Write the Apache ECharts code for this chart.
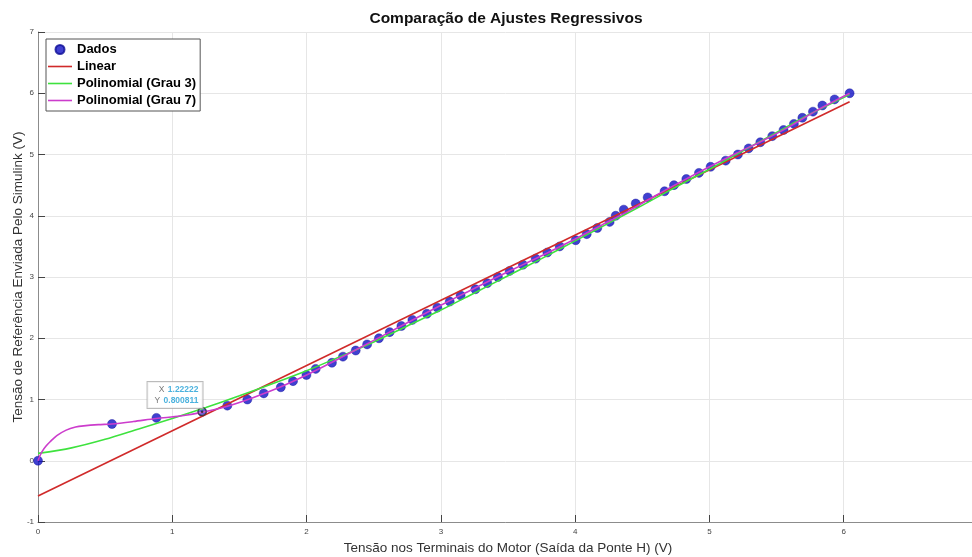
<!DOCTYPE html>
<html>
<head>
<meta charset="utf-8">
<script src="https://cdn.jsdelivr.net/npm/echarts@6/dist/echarts.min.js"></script>
<style>
html,body{margin:0;padding:0;background:#fff;}
#c{width:972px;height:557px;}
</style>
</head>
<body>
<div id="c"></div>
<script>
// ---- data ----
const dadosX = [0, 0.551, 0.882, 1.22222,
  1.410, 1.559, 1.681, 1.808, 1.899, 1.999, 2.068, 2.189, 2.271, 2.366,
  2.451, 2.539, 2.619, 2.706, 2.788, 2.896, 2.974, 3.066, 3.147, 3.257,
  3.346, 3.425, 3.512, 3.611, 3.706, 3.793, 3.885, 4.004, 4.086, 4.165,
  4.257, 4.302, 4.362, 4.451, 4.540, 4.666, 4.736, 4.828, 4.922, 5.009,
  5.121, 5.212, 5.292, 5.379, 5.468, 5.552, 5.629, 5.692, 5.771, 5.841,
  5.932, 6.044];
const dadosY = [0, 0.6, 0.7, 0.800811,
  0.9, 1.0, 1.1, 1.2, 1.3, 1.4, 1.5, 1.6, 1.7, 1.8,
  1.9, 2.0, 2.1, 2.2, 2.3, 2.4, 2.5, 2.6, 2.7, 2.8,
  2.9, 3.0, 3.1, 3.2, 3.3, 3.4, 3.5, 3.6, 3.7, 3.8,
  3.9, 4.0, 4.1, 4.2, 4.3, 4.4, 4.5, 4.6, 4.7, 4.8,
  4.9, 5.0, 5.1, 5.2, 5.3, 5.4, 5.5, 5.6, 5.7, 5.8,
  5.9, 6.0];

const linearX = [0, 6.044];
const linearY = [-0.575, 5.86];

const grau3X = [0, 0.25, 0.5, 0.75, 1.0, 1.25, 1.5, 1.75, 2.0, 2.25, 2.5, 2.75,
  3.0, 3.25, 3.5, 3.75, 4.0, 4.25, 4.5, 4.75, 5.0, 5.25, 5.5, 5.75, 6.044];
const grau3Y = [0.12, 0.21, 0.35, 0.52, 0.69, 0.87, 1.06, 1.26, 1.47, 1.70, 1.94, 2.20,
  2.46, 2.74, 3.02, 3.30, 3.59, 3.88, 4.17, 4.47, 4.76, 5.06, 5.36, 5.66, 5.98];

const grau7X = [0, 0.012, 0.03, 0.06, 0.09, 0.14, 0.21, 0.28, 0.34, 0.45, 0.55, 0.71, 0.88,
  1.06, 1.22, 1.41, 1.6, 1.8, 2.0, 2.2, 2.4, 2.6, 2.8, 3.0, 3.2, 3.4, 3.6,
  3.8, 4.0, 4.2, 4.4, 4.6, 4.8, 5.0, 5.2, 5.4, 5.6, 5.8, 6.044];
const grau7Y = [0, 0.07, 0.15, 0.24, 0.31, 0.41, 0.50, 0.55, 0.57, 0.59, 0.60, 0.64, 0.69,
  0.73, 0.79, 0.89, 1.03, 1.20, 1.40, 1.62, 1.85, 2.08, 2.31, 2.54, 2.76, 2.98, 3.19,
  3.40, 3.62, 3.85, 4.08, 4.33, 4.57, 4.80, 5.02, 5.23, 5.46, 5.72, 6.0];

const tipX = [1.22222];
const tipY = [0.800811];

const titleText = 'Comparação de Ajustes Regressivos';
const xName = 'Tensão nos Terminais do Motor (Saída da Ponte H) (V)';
const yName = 'Tensão de Referência Enviada Pelo Simulink (V)';
const names = ['Dados', 'Linear', 'Polinomial (Grau 3)', 'Polinomial (Grau 7)'];

const zip = (xs, ys) => xs.map((x, i) => [x, ys[i]]);
const FONT = 'Liberation Sans, Arial, sans-serif';
const LINE_ICON = 'path://M0,0H24V1.6H0Z';

const chart = echarts.init(document.getElementById('c'), null, {renderer: 'canvas'});
const axisCommon = {
  type: 'value',
  interval: 1,
  axisLine: {show: true, onZero: false, lineStyle: {color: '#8c8c8c', width: 1}},
  axisTick: {show: true, inside: true, length: 7, lineStyle: {color: '#444', width: 1}},
  splitLine: {show: true, lineStyle: {color: '#e6e6e6', width: 1}},
  axisLabel: {fontFamily: FONT, fontSize: 8, color: '#444'},
  nameLocation: 'middle',
  nameMoveOverlap: false
};

chart.setOption({
  animation: false,
  backgroundColor: '#fff',
  title: {
    text: titleText,
    left: 501, top: 6,
    textAlign: 'center',
    textStyle: {fontFamily: FONT, fontSize: 15.5, fontWeight: 'bold', color: '#111'}
  },
  grid: {left: 38, top: 32, right: -6, bottom: 35, containLabel: false, outerBoundsMode: 'none'},
  xAxis: Object.assign({}, axisCommon, {
    min: 0, max: 7, name: xName, nameGap: 19,
    nameTextStyle: {fontFamily: FONT, fontSize: 13.5, color: '#333'},
    axisLabel: Object.assign({}, axisCommon.axisLabel, {margin: 6})
  }),
  yAxis: Object.assign({}, axisCommon, {
    min: -1, max: 7, name: yName, nameGap: 13,
    nameTextStyle: {fontFamily: FONT, fontSize: 13.5, color: '#333'},
    axisLabel: Object.assign({}, axisCommon.axisLabel, {margin: 4})
  }),
  legend: {
    data: [
      {name: names[0], icon: 'circle'},
      {name: names[1], icon: LINE_ICON},
      {name: names[2], icon: LINE_ICON},
      {name: names[3], icon: LINE_ICON}
    ],
    orient: 'vertical',
    left: 46, top: 39,
    itemWidth: 24, itemHeight: 9, itemGap: 4,
    symbolKeepAspect: true,
    padding: [4, 4, 4, 2],
    borderColor: '#555', borderWidth: 1,
    backgroundColor: '#fff',
    textStyle: {fontFamily: FONT, fontSize: 13, fontWeight: 'bold', color: '#000'}
  },
  series: [
    {
      name: names[0], type: 'scatter', data: zip(dadosX, dadosY),
      symbol: 'circle', symbolSize: 9,
      itemStyle: {color: '#1010c4', borderColor: '#0c0c96', borderWidth: 0.5}
    },
    {
      name: names[1], type: 'line', data: zip(linearX, linearY),
      symbol: 'none', lineStyle: {color: '#d02a2a', width: 1.6},
      itemStyle: {color: '#d02a2a'}
    },
    {
      name: names[2], type: 'line', data: zip(grau3X, grau3Y), smooth: 0.3,
      symbol: 'none', lineStyle: {color: '#3ee23e', width: 1.6},
      itemStyle: {color: '#3ee23e'}
    },
    {
      name: names[3], type: 'line', data: zip(grau7X, grau7Y), smooth: 0.3,
      symbol: 'none', lineStyle: {color: '#cc3ccc', width: 1.6},
      itemStyle: {color: '#cc3ccc'}
    },
    {
      name: 'tip', type: 'scatter', data: zip(tipX, tipY),
      symbol: 'circle', symbolSize: 8, z: 5,
      itemStyle: {color: 'rgba(255,255,255,0.2)', borderColor: '#333', borderWidth: 1.2},
      label: {
        show: true,
        position: [5, 1],
        align: 'right', verticalAlign: 'bottom',
        backgroundColor: '#fff',
        borderColor: '#aaa', borderWidth: 1,
        padding: [2, 4, 2, 7],
        lineHeight: 11,
        formatter: function (p) {
          return '{l|X} {v|' + p.value[0] + '}\n{l|Y} {v|' + p.value[1] + '}';
        },
        rich: {
          l: {fontFamily: FONT, fontSize: 8.5, color: '#555', align: 'right', lineHeight: 11},
          v: {fontFamily: FONT, fontSize: 8.5, color: '#1e9fd6', fontWeight: 'bold', align: 'right', lineHeight: 11}
        }
      }
    },
    {
      name: 'tipdot', type: 'scatter', data: zip(tipX, tipY),
      symbol: 'circle', symbolSize: 2.5, z: 6, silent: true,
      itemStyle: {color: '#222'}
    }
  ]
});
</script>
</body>
</html>
